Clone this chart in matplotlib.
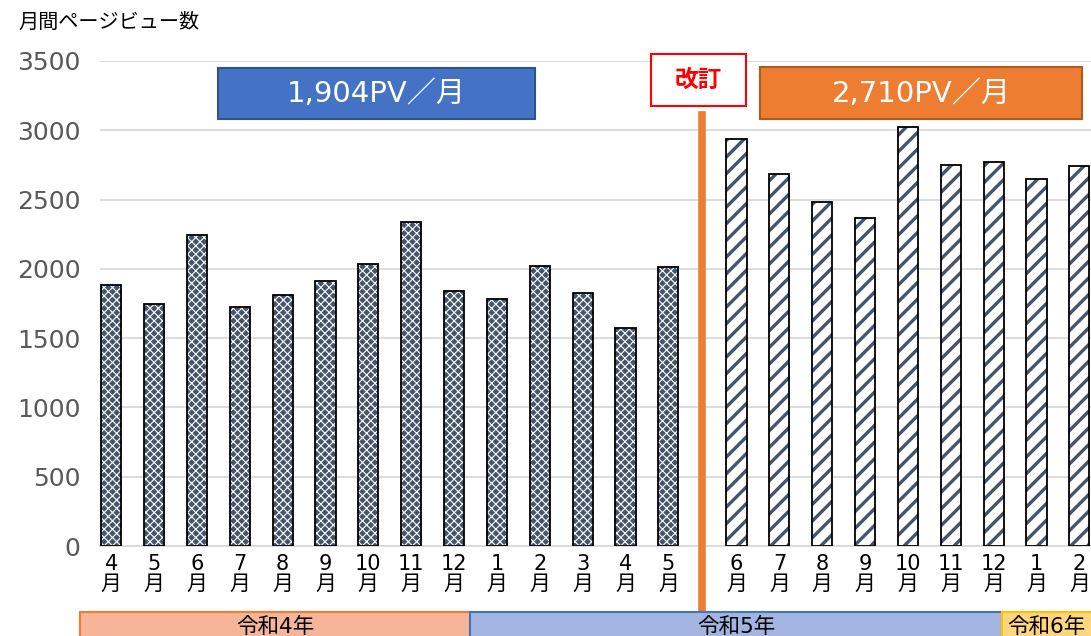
import matplotlib.pyplot as plt
from matplotlib.patches import Rectangle

plt.rcParams['font.family'] = ['DejaVu Sans', 'Noto Sans CJK JP']

# data
months_before = ["4", "5", "6", "7", "8", "9", "10", "11", "12", "1", "2", "3", "4", "5"]
pv_before = [1880, 1746, 2244, 1725, 1811, 1912, 2035, 2338, 1840, 1782, 2021, 1826, 1573, 2013]
months_after = ["6", "7", "8", "9", "10", "11", "12", "1", "2"]
pv_after = [2937, 2685, 2482, 2367, 3024, 2750, 2771, 2648, 2742]
avg_before = "1,904PV／月"
avg_after = "2,710PV／月"
years = ["令和4年", "令和5年", "令和6年"]

W, H = 1091, 636
def fx(px):
    return px / W
def fy(py):
    return 1 - py / H

gap = 1.59
x_before = list(range(len(months_before)))
x_after = [len(months_before) - 1 + gap + i for i in range(len(months_after))]
x_line = len(months_before) - 1 + 0.79

fig = plt.figure(figsize=(W / 100, H / 100), dpi=100)
ax = fig.add_axes([fx(100), fy(546), 1 - fx(100), fy(61) - fy(546)])

navy = '#44546A'
with plt.rc_context({'hatch.linewidth': 0.8}):
    ax.bar(x_before, pv_before, width=0.47, color=navy, edgecolor='white',
           hatch='xxxx', linewidth=0, zorder=2)
ax.bar(x_before, pv_before, width=0.47, fill=False, edgecolor='black', linewidth=1.3, zorder=3)
with plt.rc_context({'hatch.linewidth': 2.4}):
    ax.bar(x_after, pv_after, width=0.47, color='white', edgecolor=navy,
           hatch='//', linewidth=0, zorder=2)
ax.bar(x_after, pv_after, width=0.47, fill=False, edgecolor='black', linewidth=1.3, zorder=3)

ax.set_ylim(0, 3500)
ax.set_xlim(-0.26, x_after[-1] + 0.27)
ax.set_yticks(range(0, 3501, 500))
ax.yaxis.grid(True, color='#D9D9D9', linewidth=1.3)
ax.set_axisbelow(True)
for s in ['top', 'right', 'left']:
    ax.spines[s].set_visible(False)
ax.spines['bottom'].set_color('#D9D9D9')
ax.spines['bottom'].set_linewidth(1.3)
ax.tick_params(axis='y', length=0, pad=14, labelsize=18, labelcolor='#595959')
ax.tick_params(axis='x', length=0, pad=6, labelsize=15)
ax.set_xticks(x_before + x_after)
ax.set_xticklabels([m + "\n月" for m in months_before + months_after], linespacing=1.0)

# revision line
ax.plot([x_line, x_line], [-476, 3110], color='#ED7D31', linewidth=5.5, clip_on=False, zorder=4)

# title
fig.text(fx(18), fy(22), "月間ページビュー数", fontsize=14.5, va='center', ha='left')

# average boxes
fig.patches.append(Rectangle((fx(218), fy(119)), fx(535 - 218), fy(68) - fy(119),
                             transform=fig.transFigure, facecolor='#4472C4',
                             edgecolor='#2F528F', linewidth=1.5))
fig.text(fx(376), fy(94), avg_before, fontsize=21, color='white', ha='center', va='center')
fig.patches.append(Rectangle((fx(760), fy(119)), fx(1082 - 760), fy(67) - fy(119),
                             transform=fig.transFigure, facecolor='#ED7D31',
                             edgecolor='#AE5A21', linewidth=1.5))
fig.text(fx(921), fy(94), avg_after, fontsize=21, color='white', ha='center', va='center')
fig.patches.append(Rectangle((fx(651), fy(106)), fx(746 - 651), fy(54) - fy(106),
                             transform=fig.transFigure, facecolor='white',
                             edgecolor='#FF0000', linewidth=1.5))
fig.text(fx(698), fy(80), "改訂", fontsize=17, color='#FF0000', fontweight='bold',
         ha='center', va='center')

# year bands
bands = [(80, 470, '#F6B598', '#ED7D31'), (470, 1002, '#A3B4E0', '#4472C4'),
         (1002, 1100, '#FFD680', '#FFC000')]
for (x0, x1, fc, ec), label in zip(bands, years):
    fig.patches.append(Rectangle((fx(x0), fy(650)), fx(x1 - x0), fy(612) - fy(650),
                                 transform=fig.transFigure, facecolor=fc,
                                 edgecolor=ec, linewidth=1.5))
    fig.text(fx((x0 + min(x1, 1091)) / 2), fy(627), label, fontsize=15.5,
             ha='center', va='center')

fig.savefig('out.png', dpi=100)
